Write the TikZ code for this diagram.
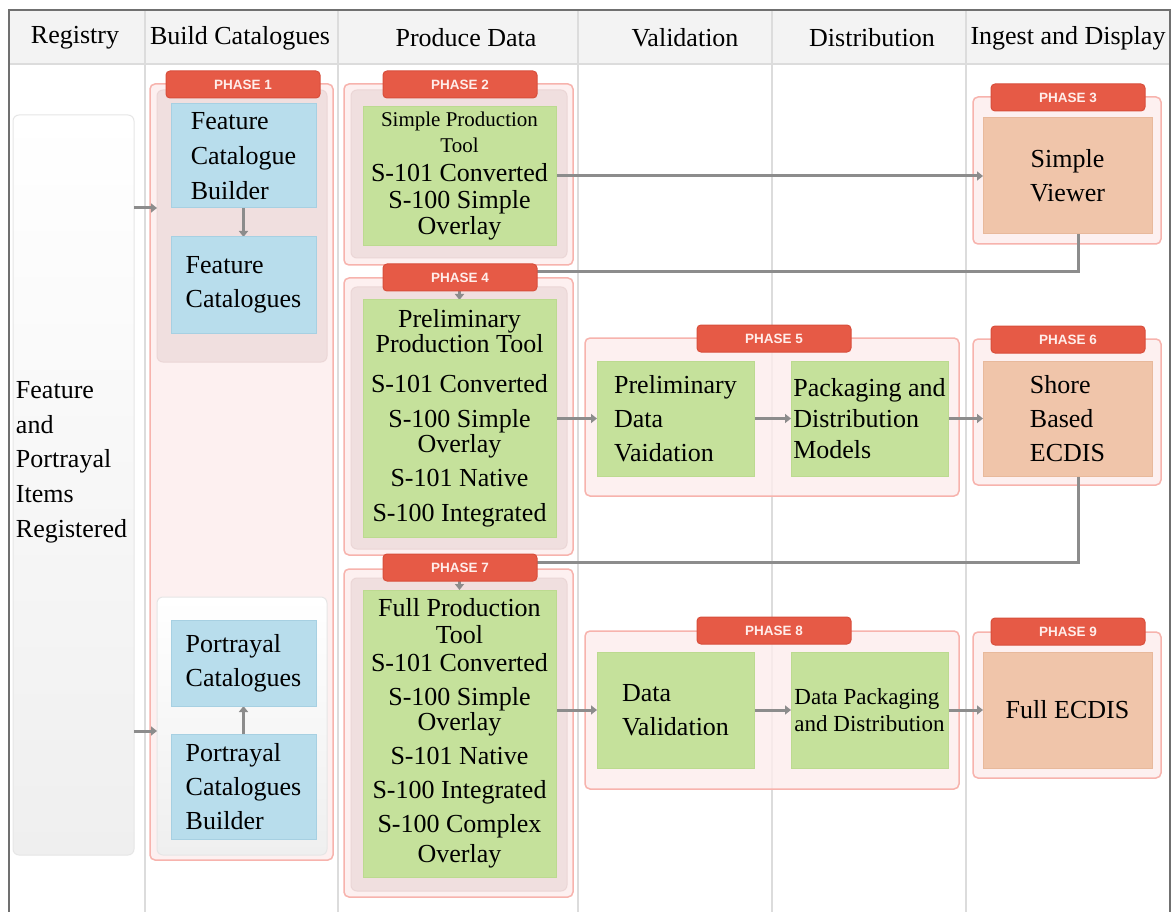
\documentclass[tikz,border=0pt]{standalone}
\usepackage{fontspec}
\setmainfont{Liberation Serif}
\newfontfamily\tagfont{Liberation Sans}
\usetikzlibrary{arrows.meta}
\definecolor{hdr}{HTML}{F3F3F3}
\definecolor{sepcol}{HTML}{DCDCDC}
\definecolor{framecol}{HTML}{707070}
\definecolor{pinkfill}{HTML}{FDEDED}
\definecolor{pinkdraw}{HTML}{F7B3AD}
\definecolor{innerfill}{HTML}{F0DFDF}
\definecolor{innerdraw}{HTML}{EBD6D6}
\definecolor{tagred}{HTML}{E65A46}
\definecolor{tagdraw}{HTML}{D84E3B}
\definecolor{bluefill}{HTML}{B8DDEC}
\definecolor{bluedraw}{HTML}{A7D0E2}
\definecolor{greenfill}{HTML}{C5E19B}
\definecolor{greendraw}{HTML}{BCDA90}
\definecolor{salfill}{HTML}{F0C5AA}
\definecolor{saldraw}{HTML}{E8B99C}
\definecolor{conncol}{HTML}{8C8C8C}
\definecolor{tagtext}{HTML}{FFEDEA}
\definecolor{panelgray}{HTML}{EFEFEF}
\definecolor{paneldraw}{HTML}{E6E6E6}
\pgfdeclarelayer{bg}
\pgfdeclarelayer{phase}
\pgfdeclarelayer{connlayer}
\pgfsetlayers{bg,phase,connlayer,main}
\begin{document}
\begin{tikzpicture}[x=1pt,y=-1pt,
  every node/.style={inner sep=0pt, outer sep=0pt},
  wh/.style 2 args={minimum width=#1pt, minimum height=#2pt},
  txt/.style={font=\fontsize{26}{34}\selectfont, text=black},
  boxbase/.style={anchor=north west, rectangle, line width=1pt},
  phaseout/.style={boxbase, draw=pinkdraw, fill=pinkfill, fill opacity=0.8, line width=1.5pt, rounded corners=5pt},
  phasein/.style={boxbase, draw=innerdraw, fill=innerfill, rounded corners=6pt},
  graypanel/.style={boxbase, draw=paneldraw, top color=white, bottom color=panelgray, rounded corners=6pt},
  tagbox/.style={boxbase, draw=tagdraw, fill=tagred, rounded corners=4pt, minimum width=154pt, minimum height=27pt, text=tagtext, font=\tagfont\bfseries\fontsize{13.5}{16}\selectfont},
  bluebox/.style={boxbase, draw=bluedraw, fill=bluefill, txt},
  greenbox/.style={boxbase, draw=greendraw, fill=greenfill, txt, align=center},
  salbox/.style={boxbase, draw=saldraw, fill=salfill, txt},
  arr/.style={draw=conncol, line width=3pt, -{Triangle[length=6pt,width=9pt]}},
]
\useasboundingbox (0,0) rectangle (1176,912);
\begin{pgfonlayer}{bg}
  \fill[white] (0,0) rectangle (1176,912);
  \fill[hdr] (9,10) rectangle (1170,64);
  \foreach \x in {145,338,578,772,966} \draw[sepcol, line width=1.5pt] (\x,10) -- (\x,912);
  \draw[sepcol, line width=1.2pt] (9,64) -- (1170,64);
  \draw[framecol, line width=2.5pt] (9,912) -- (9,10) -- (1170,10) -- (1170,912);
\end{pgfonlayer}

% header
\node[txt] (hreg) at (75,38) {Registry};
\node[txt] (hbuild) at (240,38) {Build Catalogues};
\node[txt] (hprod) at (466,38) {Produce Data};
\node[txt] (hval) at (685,38) {Validation};
\node[txt] (hdist) at (872,38) {Distribution};
\node[txt] (hing) at (1068,38) {Ingest and Display};

% panels
\begin{pgfonlayer}{phase}
  \node[graypanel, wh={121}{740}] (reg) at (13,115) {};
  \node[phaseout, wh={183}{776}] (p1out) at (150,84) {};
  \node[phasein, wh={170}{272}] (p1in) at (157,90) {};
  \node[graypanel, wh={170}{258}] (p1low) at (157,597) {};
  \node[phaseout, wh={229}{181}] (p2out) at (344,84) {};
  \node[phasein, wh={216}{168}] (p2in) at (351,90) {};
  \node[phaseout, wh={188}{147}] (p3out) at (973,97) {};
  \node[phaseout, wh={229}{277}] (p4out) at (344,278) {};
  \node[phasein, wh={216}{262}] (p4in) at (351,287) {};
  \node[phaseout, wh={374}{158}] (p5out) at (585,338) {};
  \node[phaseout, wh={188}{146}] (p6out) at (973,339) {};
  \node[phaseout, wh={229}{328}] (p7out) at (344,569) {};
  \node[phasein, wh={216}{313}] (p7in) at (351,578) {};
  \node[phaseout, wh={374}{158}] (p8out) at (585,631) {};
  \node[phaseout, wh={188}{146}] (p9out) at (973,632) {};
\end{pgfonlayer}

\node[txt, anchor=west, align=left, font=\fontsize{26}{34.7}\selectfont] (regtxt) at (16,462) {Feature\\and\\Portrayal\\Items\\Registered};

% phase 1
\node[tagbox] (p1tag) at (166,71) {PHASE 1};
\node[bluebox, wh={145}{104}, align=left, font=\fontsize{26}{35}\selectfont] (fcb) at (171,104) {Feature\\Catalogue\\Builder};
\node[bluebox, wh={145}{96}, align=left] (fc) at (171,237) {Feature\\Catalogues};
\node[bluebox, wh={145}{86}, align=left] (pc) at (171,620) {Portrayal\\Catalogues};
\node[bluebox, wh={145}{105}, align=left] (pcb) at (171,734) {Portrayal\\Catalogues\\Builder};

% phase 2
\node[tagbox] (p2tag) at (383,71) {PHASE 2};
\node[greenbox, wh={193}{139}] (p2g) at (363,107) {{\fontsize{21}{26}\selectfont Simple Production}\\[-8pt]{\fontsize{21}{26}\selectfont Tool}\\[-5pt]S-101 Converted\\[-7pt]S-100 Simple\\[-8pt]Overlay};

% phase 3
\node[tagbox] (p3tag) at (991,84) {PHASE 3};
\node[salbox, wh={169}{116}, align=center] (sv) at (983,118) {Simple\\Viewer};

% phase 4
\node[tagbox] (p4tag) at (383,264) {PHASE 4};
\node[greenbox, wh={193}{237}] (p4g) at (363,300) {Preliminary\\[-9pt]Production Tool\\[6pt]S-101 Converted\\[1pt]S-100 Simple\\[-9pt]Overlay\\S-101 Native\\[1pt]S-100 Integrated};

% phase 5
\node[tagbox] (p5tag) at (697,325) {PHASE 5};
\node[greenbox, wh={157}{115}, align=left] (pdv) at (597,361) {Preliminary\\Data\\Vaidation};
\node[greenbox, wh={157}{115}, align=left, font=\fontsize{26}{31}\selectfont] (pdm) at (791,361) {Packaging and\\Distribution\\Models};

% phase 6
\node[tagbox] (p6tag) at (991,326) {PHASE 6};
\node[salbox, wh={169}{115}, align=left] (se) at (983,361) {Shore\\Based\\ECDIS};

% phase 7
\node[tagbox] (p7tag) at (383,554) {PHASE 7};
\node[greenbox, wh={193}{287}] (p7g) at (363,590) {Full Production\\[-7pt]Tool\\[-6pt]S-101 Converted\\S-100 Simple\\[-9pt]Overlay\\S-101 Native\\S-100 Integrated\\S-100 Complex\\[-4pt]Overlay};

% phase 8
\node[tagbox] (p8tag) at (697,617) {PHASE 8};
\node[greenbox, wh={157}{116}, align=left] (dv) at (597,652) {Data\\Validation};
\node[greenbox, wh={157}{116}, align=left, font=\fontsize{23}{27}\selectfont] (dpd) at (791,652) {Data Packaging\\and Distribution};

% phase 9
\node[tagbox] (p9tag) at (991,618) {PHASE 9};
\node[salbox, wh={169}{116}, align=center] (fe) at (983,652) {Full ECDIS};

% connectors
\begin{pgfonlayer}{connlayer}
  \coordinate (ra) at (0,208);
  \coordinate (rb) at (0,731);
  \coordinate (k3) at (1078,272);
  \coordinate (k6) at (1078,562);
  \draw[arr] (reg.east |- ra) -- (p1in.west |- ra);
  \draw[arr] (reg.east |- rb) -- (p1low.west |- rb);
  \draw[arr] (fcb.south) -- (fc.north);
  \draw[arr] (pcb.north) -- (pc.south);
  \draw[arr] (p2g.east |- sv.west) -- (sv.west);
  \draw[arr] (sv.south -| k3) -- (k3) -| (p4g.north);
  \draw[arr] (p4g.east |- pdv.west) -- (pdv.west);
  \draw[arr] (pdv.east) -- (pdm.west);
  \draw[arr] (pdm.east) -- (se.west);
  \draw[arr] (se.south -| k6) -- (k6) -| (p7g.north);
  \draw[arr] (p7g.east |- dv.west) -- (dv.west);
  \draw[arr] (dv.east) -- (dpd.west);
  \draw[arr] (dpd.east) -- (fe.west);
\end{pgfonlayer}
\end{tikzpicture}
\end{document}
